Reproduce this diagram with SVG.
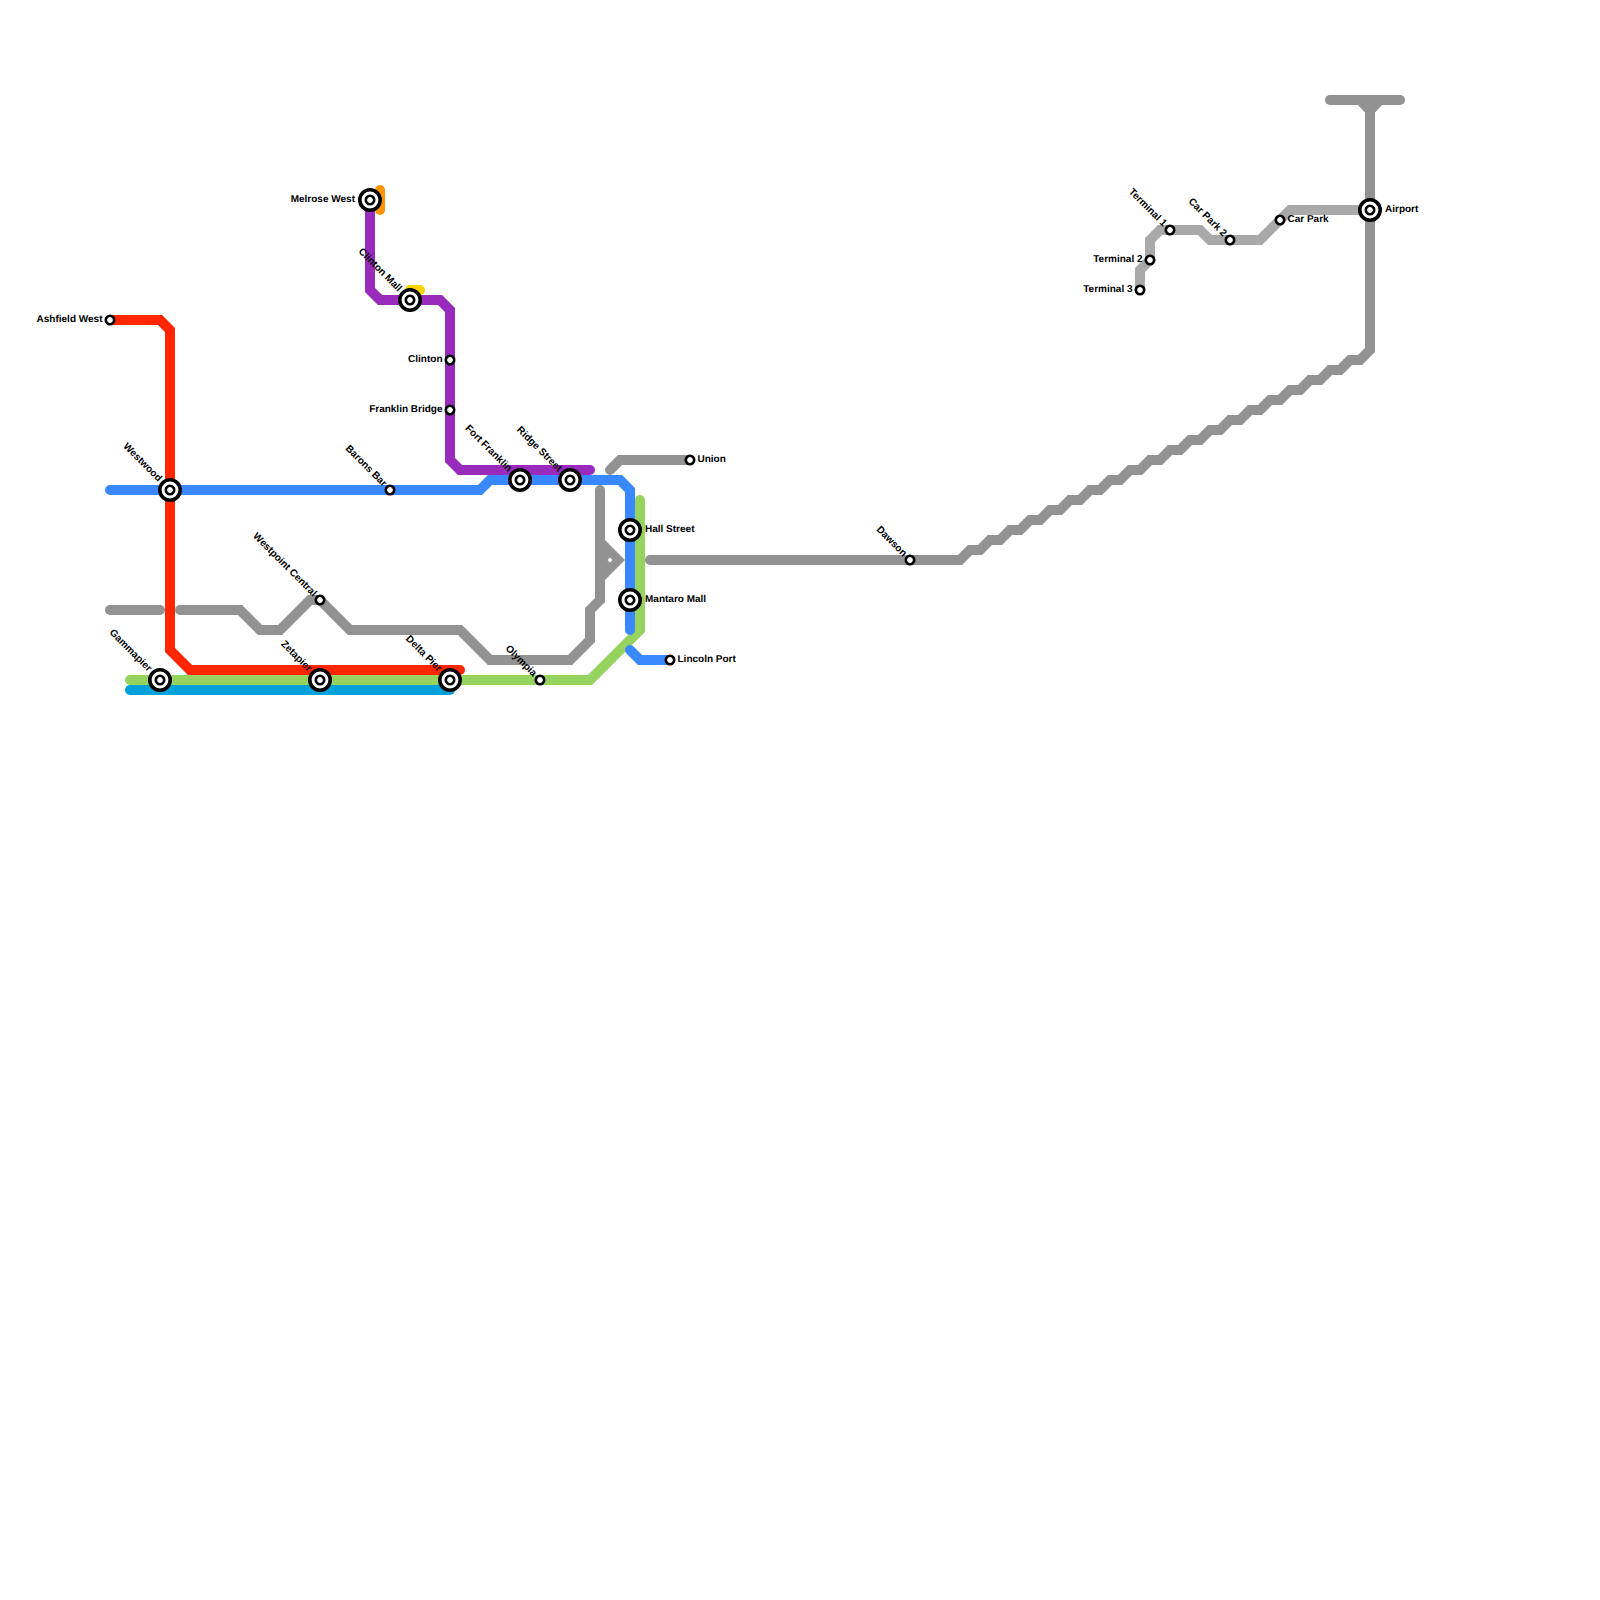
<svg xmlns="http://www.w3.org/2000/svg" width="1600" height="1600" viewBox="0 0 1600 1600">
<style>
.l{fill:none;stroke-width:10;stroke-linecap:round;stroke-linejoin:miter}
.g{stroke:#929292}.a{stroke:#a9a9a9}.b{stroke:#3a88fe}.r{stroke:#ff2600}.n{stroke:#96d35f}.c{stroke:#00a1d8}.p{stroke:#982abc}.o{stroke:#ff9300}.y{stroke:#ffd300}
.ring{fill:#fff;stroke:#000;stroke-width:3.6}
.small{fill:#fff;stroke:#000;stroke-width:2.6}
text{font-family:"Liberation Sans",Arial,sans-serif;font-size:10px;font-weight:bold;fill:#000;text-rendering:geometricPrecision}
.e{text-anchor:end}
</style>
<defs>
<g id="big"><circle class="ring" r="10.2"/><circle class="small" r="4.2"/></g>
<circle id="sm" class="small" r="4.2"/>
</defs>
<rect width="1600" height="1600" fill="#fff"/>
<g id="connectors">
<path class="l o" d="M380 190V210"/>
<path class="l y" d="M410 290H420"/>
<path class="l c" d="M130 690H450"/>
<path class="l r" d="M110 320H160L170 330V650L190 670H460"/>
<path class="l n" d="M640 500V630L590 680H130"/>
<path class="l g" d="M110 610H160"/>
<path class="l g" d="M180 610H240L260 630H280L310 600H320L350 630H460L490 660H570L590 640V610L600 600V490"/>
<path d="M595 530V590L625 560ZM610 557.500L612.500 560L610 562.500L607.500 560Z" fill="#929292" fill-rule="evenodd"/>
<path class="l g" d="M610 470L620 460H690"/>
<path class="l g" d="M650 560H960L970 550H980L990 540H1000L1010 530H1020L1030 520H1040L1050 510H1060L1070 500H1080L1090 490H1100L1110 480H1120L1130 470H1140L1150 460H1160L1170 450H1180L1190 440H1200L1210 430H1220L1230 420H1240L1250 410H1260L1270 400H1280L1290 390H1300L1310 380H1320L1330 370H1340L1350 360H1360L1370 350V110"/>
<path class="l g" d="M1330 100H1400"/>
<path d="M1357 104H1383L1375 112.500H1365Z" fill="#929292"/>
<path class="l a" d="M1140 290V270L1150 260V240L1160 230H1200L1210 240H1260L1290 210H1370"/>
<path class="l b" d="M110 490H480L490 480H620L630 490V630"/>
<path class="l b" d="M630 650L640 660H670"/>
<path class="l p" d="M370 200V290L380 300H440L450 310V460L460 470H590"/>
</g>
<g id="ashfield-west"><use href="#sm" x="110" y="320"/><text class="e" x="102.500" y="322">Ashfield West</text></g>
<g id="westwood"><use href="#big" x="170" y="490"/><text class="e" transform="rotate(45 158 482)" x="158" y="482">Westwood</text></g>
<g id="barons-bar"><use href="#sm" x="390" y="490"/><text class="e" transform="rotate(45 383 487)" x="383" y="487">Barons Bar</text></g>
<g id="westpoint-central"><use href="#sm" x="320" y="600"/><text class="e" transform="rotate(45 313 597)" x="313" y="597">Westpoint Central</text></g>
<g id="gammapier"><use href="#big" x="160" y="680"/><text class="e" transform="rotate(45 148 672)" x="148" y="672">Gammapier</text></g>
<g id="zetapier"><use href="#big" x="320" y="680"/><text class="e" transform="rotate(45 308 672)" x="308" y="672">Zetapier</text></g>
<g id="delta-pier"><use href="#big" x="450" y="680"/><text class="e" transform="rotate(45 438 672)" x="438" y="672">Delta Pier</text></g>
<g id="olympia"><use href="#sm" x="540" y="680"/><text class="e" transform="rotate(45 533 677)" x="533" y="677">Olympia</text></g>
<g id="melrose-west"><use href="#big" x="370" y="200"/><text class="e" x="355" y="202">Melrose West</text></g>
<g id="clinton-mall"><use href="#big" x="410" y="300"/><text class="e" transform="rotate(45 398 292)" x="398" y="292">Clinton Mall</text></g>
<g id="clinton"><use href="#sm" x="450" y="360"/><text class="e" x="442.500" y="362">Clinton</text></g>
<g id="franklin-bridge"><use href="#sm" x="450" y="410"/><text class="e" x="442.500" y="412">Franklin Bridge</text></g>
<g id="fort-franklin"><use href="#big" x="520" y="480"/><text class="e" transform="rotate(45 508 472)" x="508" y="472">Fort Franklin</text></g>
<g id="ridge-street"><use href="#big" x="570" y="480"/><text class="e" transform="rotate(45 558 472)" x="558" y="472">Ridge Street</text></g>
<g id="union"><use href="#sm" x="690" y="460"/><text x="697.500" y="462">Union</text></g>
<g id="hall-street"><use href="#big" x="630" y="530"/><text x="645" y="532">Hall Street</text></g>
<g id="mantaro-mall"><use href="#big" x="630" y="600"/><text x="645" y="602">Mantaro Mall</text></g>
<g id="lincoln-port"><use href="#sm" x="670" y="660"/><text x="677.500" y="662">Lincoln Port</text></g>
<g id="dawson"><use href="#sm" x="910" y="560"/><text class="e" transform="rotate(45 903 557)" x="903" y="557">Dawson</text></g>
<g id="terminal-3"><use href="#sm" x="1140" y="290"/><text class="e" x="1132.500" y="292">Terminal 3</text></g>
<g id="terminal-2"><use href="#sm" x="1150" y="260"/><text class="e" x="1142.500" y="262">Terminal 2</text></g>
<g id="terminal-1"><use href="#sm" x="1170" y="230"/><text class="e" transform="rotate(45 1163 227)" x="1163" y="227">Terminal 1</text></g>
<g id="car-park-2"><use href="#sm" x="1230" y="240"/><text class="e" transform="rotate(45 1223 237)" x="1223" y="237">Car Park 2</text></g>
<g id="car-park"><use href="#sm" x="1280" y="220"/><text x="1287.500" y="222">Car Park</text></g>
<g id="airport"><use href="#big" x="1370" y="210"/><text x="1385" y="212">Airport</text></g>
</svg>
